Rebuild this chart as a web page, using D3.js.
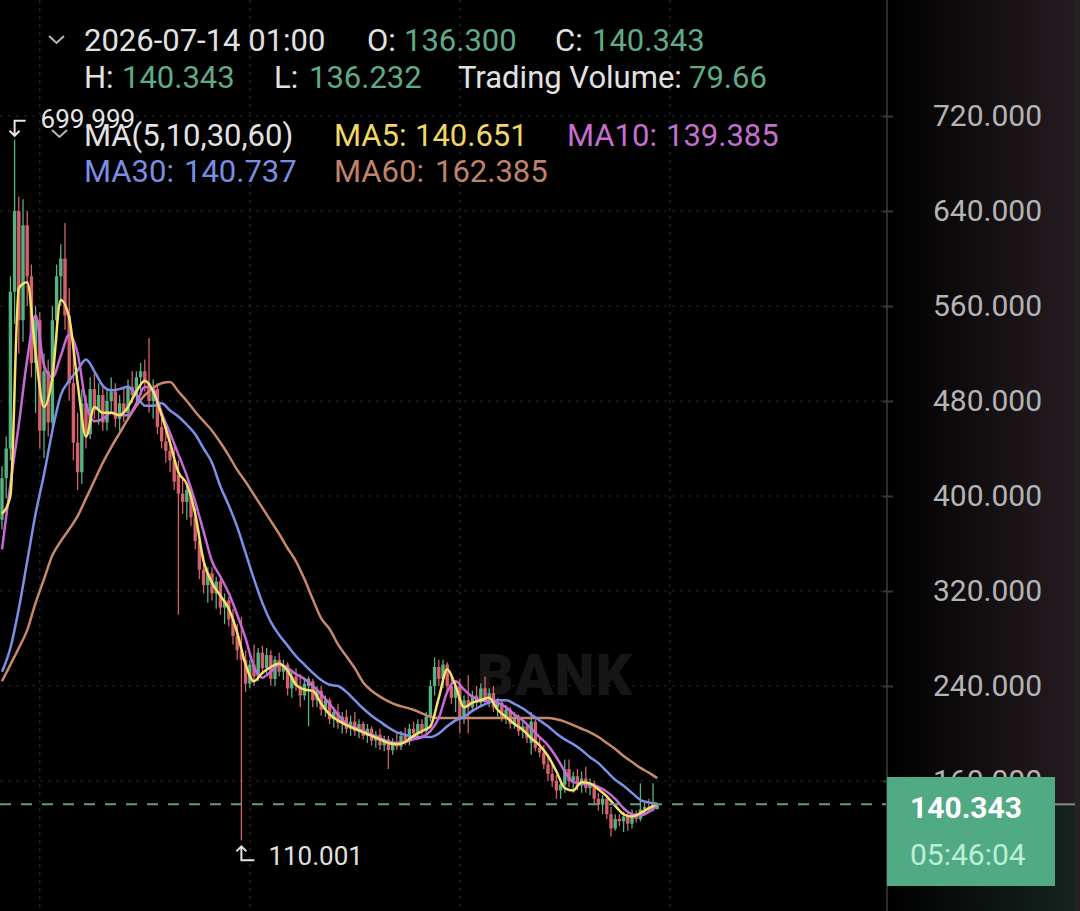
<!DOCTYPE html>
<html>
<head>
<meta charset="utf-8">
<script src="https://cdn.jsdelivr.net/npm/d3@7"></script>
<style>
  html, body { margin: 0; padding: 0; background: #000; }
  svg { display: block; font-family: Roboto, "Noto Sans", sans-serif; }
</style>
</head>
<body>
<svg id="chart"></svg>
<script>
// candles, one per hour, oldest first
const open = [380,415,440,572,640,548,628,585,512,548, 455,505,462,548,585,600,552,495,445,420,
  478,452,490,472,485,462,480,488,465,478, 470,492,485,500,505,495,480,490,458,446,
  438,430,418,402,395,405,382,362,338,325, 335,318,328,306,312,296,282,270,262,242,
  258,248,268,255,266,246,262,252,258,238, 248,240,232,240,244,228,236,220,228,212,
  218,209,214,204,210,202,208,198,204,194, 199,190,195,186,193,189,198,194,204,200,
  208,202,214,240,256,246,258,240,230,240, 212,228,222,232,226,238,228,234,222,226,
  214,220,208,214,202,206,192,210,188,184, 174,166,160,152,157,170,160,164,156,162,
  154,158,145,140,145,132,120,128,126,130, 124,132,128,136,138,136,136.300];
const high = [425,450,585,699.999,652,650,640,595,560,555, 520,515,560,595,612,630,575,520,470,490,
  485,500,505,495,492,490,500,495,485,490, 498,505,505,512,515,533,498,495,470,458,
  452,442,430,415,410,408,390,370,350,340, 340,332,330,318,315,305,292,298,270,262,
  275,272,274,272,270,265,268,262,260,252, 255,250,246,248,246,240,240,232,230,222,
  225,218,220,215,218,212,210,208,206,202, 204,198,198,196,200,202,205,208,210,212,
  212,218,245,264,262,262,260,250,244,246, 232,249,236,240,242,248,238,240,230,228,
  224,222,218,216,210,208,218,212,196,190, 182,175,165,160,178,178,168,170,168,172,
  162,160,150,148,148,138,132,132,134,133, 136,135,158,142,145,158,140.343];
const low = [372,398,430,545,520,530,560,500,470,440, 432,450,455,530,560,540,480,430,405,410,
  440,448,465,460,455,455,470,458,455,462, 465,478,480,485,488,470,465,452,440,428,
  420,405,300,385,380,375,355,330,318,310, 312,305,300,292,290,275,262,110.001,235,238,
  240,244,250,250,240,240,248,245,232,230, 236,222,228,206,222,222,215,214,208,205,
  204,200,200,198,198,196,195,192,190,188, 186,185,170,182,186,186,190,190,196,196,
  198,200,210,232,240,238,236,225,218,200, 208,200,218,222,222,224,222,218,214,210,
  208,204,204,198,196,192,182,185,180,170, 160,155,145,145,150,155,150,152,150,150,
  148,140,135,132,128,113,118,122,117,118, 120,125,126,132,134,134,136.232];
const close = [415,440,572,640,548,628,585,512,548,455, 505,462,548,585,600,552,495,445,420,478,
  452,490,472,485,462,480,488,465,478,470, 492,485,500,505,495,480,490,458,446,438,
  430,412,402,395,405,382,362,338,325,335, 318,328,306,312,296,282,270,262,242,258,
  248,268,255,266,246,262,252,258,238,248, 240,232,242,246,228,236,220,228,212,218,
  209,214,204,210,202,208,198,204,194,199, 190,195,186,193,189,198,194,204,200,208,
  202,214,240,256,246,258,240,230,240,212, 228,222,232,226,238,228,234,222,226,214,
  220,208,214,202,206,196,210,188,184,174, 166,160,152,157,170,160,164,156,162,154,
  158,145,140,145,132,120,128,126,130,124, 132,128,136,138,136,142,140.343];

// moving averages, one value every maStep candles
const maStep = 2;
const ma5 = [385,400,575,580,520,475,500,565,550,495, 450,475,470,470,468,475,488,497,488,468,
  445,420,410,385,345,327,316,305,285,258, 244,251,256,259,253,241,237,236,225,216,
  211,207,204,201,198,195,192,191,193,198, 202,206,230,254,240,222,226,228,230,220,
  214,208,203,196,190,181,168,154,152,159, 158,153,147,139,132,130,133,137,140.651];
const ma10 = [355,410,460,515,552,510,500,518,536,520, 478,463,465,470,468,468,478,492,490,470,
  453,435,417,395,370,345,332,318,300,280, 256,247,252,258,255,250,246,240,233,225,
  216,208,205,202,199,196,193,192,193,195, 197,202,213,235,244,237,231,228,227,226,
  222,216,211,204,197,190,180,168,159,158, 157,155,151,145,137,132,131,134,139.385];
const ma30 = [252,272,305,345,385,418,455,485,497,506, 515,505,493,489,490,492,485,476,476,478,
  472,467,460,452,440,428,408,392,374,352, 330,310,294,283,274,265,258,251,245,241,
  240,235,228,221,215,210,205,201,199,197, 197,197,200,206,211,214,219,223,226,228,
  228,225,221,216,211,206,200,195,191,186, 180,175,168,161,156,150,144,142,140.737];
const ma60 = [244,258,272,287,310,330,350,362,372,383, 398,413,428,441,453,465,476,485,491,495,
  496,488,480,471,463,455,445,434,422,412, 401,390,379,368,356,345,330,313,297,288,
  275,265,255,243,236,231,227,224,222,220, 217,214,213,213,213,213,213,213,213,213,
  213,213,213,213,213,213,212,210,207,204, 201,197,192,187,181,176,171,167,162.385];

const yTicks = [160, 240, 320, 400, 480, 560, 640, 720];
const gridIdx = [9, 59, 109, 159];
const lastPrice = 140.343;
const countdown = "05:46:04";
const hiIdx = 3, loIdx = 57;

const W = 1080, H = 911;
const plotRight = 887;
const green = "#56b282", red = "#d6606c";

const svg = d3.select("#chart").attr("width", W).attr("height", H);

const x = d3.scaleLinear().domain([0, 156]).range([2, 657.2]);
const y = d3.scaleLinear().domain([50.5, 817.7]).range([H, 0]);

// background + price panel
svg.append("rect").attr("width", W).attr("height", H).attr("fill", "#000");
const defs = svg.append("defs");
function grad(id, c) {
  const g = defs.append("linearGradient").attr("id", id).attr("x1", 0).attr("x2", 1).attr("y1", 0).attr("y2", 0);
  g.append("stop").attr("offset", 0).attr("stop-color", "#000");
  g.append("stop").attr("offset", 1).attr("stop-color", c);
}
grad("axTop", "#251c21");
grad("axBot", "#16231e");
svg.append("rect").attr("x", plotRight).attr("y", 0).attr("width", 1075 - plotRight)
  .attr("height", y(lastPrice)).attr("fill", "url(#axTop)");
svg.append("rect").attr("x", plotRight).attr("y", y(lastPrice)).attr("width", 1075 - plotRight)
  .attr("height", H - y(lastPrice)).attr("fill", "url(#axBot)");
svg.append("rect").attr("x", 1075).attr("y", 0).attr("width", 5).attr("height", H).attr("fill", "#262123");

// grid
const grid = svg.append("g").attr("stroke", "#262626").attr("stroke-width", 1.2).attr("stroke-dasharray", "3,5");
grid.selectAll(".h").data(yTicks).enter().append("line")
  .attr("x1", 0).attr("x2", plotRight).attr("y1", d => y(d)).attr("y2", d => y(d));
grid.selectAll(".v").data(gridIdx).enter().append("line")
  .attr("x1", d => x(d)).attr("x2", d => x(d)).attr("y1", 0).attr("y2", H);

// watermark
svg.append("text").attr("x", 477).attr("y", 695).attr("font-size", 57).attr("font-weight", 900)
  .attr("fill", "#161616").attr("letter-spacing", 1).text("BANK");

// candles
const candles = d3.range(close.length).map(i => ({ i, o: open[i], h: high[i], l: low[i], c: close[i] }));
const cg = svg.append("g");
cg.selectAll(".wick").data(candles).enter().append("line")
  .attr("x1", d => x(d.i)).attr("x2", d => x(d.i))
  .attr("y1", d => y(d.h)).attr("y2", d => y(d.l))
  .attr("stroke", d => d.c >= d.o ? green : red).attr("stroke-width", 1.3);
cg.selectAll(".body").data(candles).enter().append("rect")
  .attr("x", d => x(d.i) - 1.7).attr("width", 3.4)
  .attr("y", d => y(Math.max(d.o, d.c)))
  .attr("height", d => Math.max(1, Math.abs(y(d.o) - y(d.c))))
  .attr("fill", d => d.c >= d.o ? green : red);

// moving averages
const maLine = d3.line().x((d, k) => x(k * maStep)).y(d => y(d)).curve(d3.curveMonotoneX);
[[ma60, "#c8896b"], [ma30, "#7d8fe6"], [ma10, "#c76ad8"], [ma5, "#f5e06a"]].forEach(([s, col]) => {
  svg.append("path").attr("d", maLine(s)).attr("fill", "none").attr("stroke", col)
    .attr("stroke-width", 2.5).attr("stroke-linejoin", "round");
});

// last price line
svg.append("line").attr("x1", 0).attr("x2", plotRight).attr("y1", y(lastPrice)).attr("y2", y(lastPrice))
  .attr("stroke", "#5f9f80").attr("stroke-width", 2).attr("stroke-dasharray", "11,10");

// high / low markers
const mk = svg.append("g").attr("stroke", "#e6e6e6").attr("stroke-width", 2).attr("fill", "none");
const hx = x(hiIdx), hy = y(high[hiIdx]);
mk.append("path").attr("d", `M${hx + 11},${hy - 19}H${hx}V${hy - 4}M${hx - 5},${hy - 9}L${hx},${hy - 4}L${hx + 5},${hy - 9}`);
svg.append("text").attr("x", hx + 26).attr("y", hy - 12).attr("font-size", 26).attr("fill", "#e6e6e6")
  .text(d3.format(".3f")(high[hiIdx]));
const lx = x(loIdx), ly = y(low[loIdx]);
mk.append("path").attr("d", `M${lx + 13},${ly + 20}H${lx}V${ly + 6}M${lx - 5},${ly + 11}L${lx},${ly + 6}L${lx + 5},${ly + 11}`);
svg.append("text").attr("x", lx + 27).attr("y", ly + 25).attr("font-size", 26).attr("fill", "#e0e0e0")
  .text(d3.format(".3f")(low[loIdx]));

// axis
svg.append("line").attr("x1", plotRight).attr("x2", plotRight).attr("y1", 0).attr("y2", H)
  .attr("stroke", "#2e2e2e").attr("stroke-width", 2);
const axis = d3.axisRight(y).tickValues(yTicks).tickFormat(d3.format(".3f")).tickSize(10).tickPadding(0);
const ag = svg.append("g").attr("transform", `translate(${plotRight - 4},0)`).call(axis)
  .attr("font-size", 30).attr("font-family", "Roboto, sans-serif");
ag.select(".domain").remove();
ag.selectAll(".tick line").attr("stroke", "#3a3a3a").attr("stroke-width", 2);
ag.selectAll(".tick text").attr("x", 1042 - plotRight + 4).attr("text-anchor", "end").attr("fill", "#b4b4b4");

// last price tag
svg.append("line").attr("x1", 1055).attr("x2", 1075).attr("y1", y(lastPrice)).attr("y2", y(lastPrice))
  .attr("stroke", "#8a8a8a").attr("stroke-width", 2);
svg.append("rect").attr("x", plotRight).attr("y", 777).attr("width", 168).attr("height", 109).attr("fill", "#50aa84");
svg.append("text").attr("x", 910).attr("y", 818).attr("font-size", 30).attr("font-weight", 700)
  .attr("fill", "#fff").text(d3.format(".3f")(lastPrice));
svg.append("text").attr("x", 910).attr("y", 865).attr("font-size", 30).attr("fill", "#bdeed8").text(countdown);

// header
const hd = svg.append("g").attr("font-size", 31);
const lab = "#e2e2e2", val = "#5fab86";
function item(g, px, py, label, value, vx, lc, vc) {
  const t = g.append("text").attr("x", px).attr("y", py);
  t.append("tspan").attr("fill", lc).text(label);
  if (value !== undefined) t.append("tspan").attr("x", vx).attr("fill", vc).text(value);
}
const chev = svg.append("g").attr("stroke", "#b8b8b8").attr("stroke-width", 2).attr("fill", "none");
chev.append("path").attr("d", "M49,36L56.5,43L64,36");
chev.append("path").attr("d", "M52,130L59.5,137L67,130");

item(hd, 84, 51, "2026-07-14 01:00", undefined, 0, lab);
item(hd, 367, 51, "O:", d3.format(".3f")(open[156]), 404, lab, val);
item(hd, 555, 51, "C:", d3.format(".3f")(close[156]), 592, lab, val);
item(hd, 84, 88, "H:", d3.format(".3f")(high[156]), 122, lab, val);
item(hd, 274, 88, "L:", d3.format(".3f")(low[156]), 309, lab, val);
item(hd, 458, 88, "Trading Volume:", "79.66", 689, lab, val);
item(hd, 84, 146, "MA(5,10,30,60)", undefined, 0, lab);
item(hd, 334, 146, "MA5:", d3.format(".3f")(ma5[ma5.length - 1]), 415, "#f0d868", "#f0d868");
item(hd, 567, 146, "MA10:", d3.format(".3f")(ma10[ma10.length - 1]), 666, "#c46fd0", "#c46fd0");
item(hd, 84, 182, "MA30:", d3.format(".3f")(ma30[ma30.length - 1]), 184, "#7b8de0", "#7b8de0");
item(hd, 334, 182, "MA60:", d3.format(".3f")(ma60[ma60.length - 1]), 435, "#c0826a", "#c0826a");
</script>
</body>
</html>
